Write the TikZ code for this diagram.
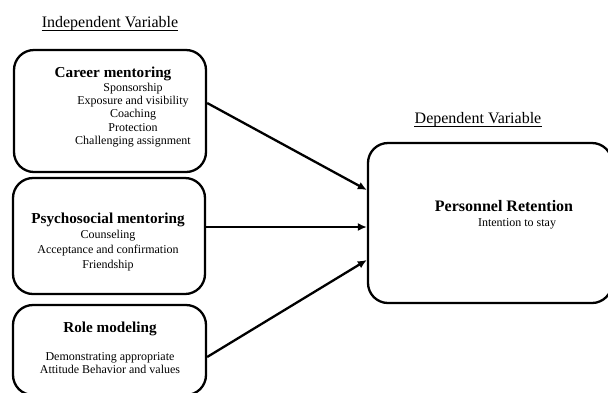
\documentclass[tikz,border=0pt]{standalone}
\usepackage{fontspec}
\setmainfont{Liberation Serif}
\usetikzlibrary{arrows.meta,calc}
\begin{document}
\begin{tikzpicture}[x=1pt,y=-1pt,
  box/.style={draw,line width=2.3pt,rounded corners=20pt,inner sep=0pt},
  arr/.style={line width=2.3pt,-{Latex[length=9pt,width=8pt]}},
  head/.style={font=\fontsize{15.2}{17}\selectfont\bfseries,inner sep=0pt},
  item/.style={font=\fontsize{12}{13.3}\selectfont,align=center,inner sep=0pt},
  lab/.style={font=\fontsize{16}{18}\selectfont,inner sep=0pt,anchor=base},
  uline/.style={line width=0.8pt}]
\clip (0,0) rectangle (608,392);
\fill[white] (0,0) rectangle (608,392);
% boxes
\node[box,minimum width=192pt,minimum height=122pt] (b1) at (110,111) {};
\node[box,minimum width=192pt,minimum height=116pt] (b2) at (109,236) {};
\node[box,minimum width=193pt,minimum height=90pt] (b3) at (109.5,350) {};
\node[box,minimum width=244pt,minimum height=160pt] (bR) at (490,223) {};
% labels
\node[lab] (lind) at (110,27.5) {Independent Variable};
\draw[uline] ($(lind.base west)+(0,3)$) -- ($(lind.base east)+(0,3)$);
\node[lab] (ldep) at (478,123) {Dependent Variable};
\draw[uline] ($(ldep.base west)+(0,3)$) -- ($(ldep.base east)+(0,3)$);
% career
\node[head] (t1) at (113,73.5) {Career mentoring};
\node[item] (i1) at (133,115) {Sponsorship\\Exposure and visibility\\Coaching\\Protection\\Challenging assignment};
% psychosocial
\node[head] (t2) at (108,219.5) {Psychosocial mentoring};
\node[item,font=\fontsize{12}{15}\selectfont] (i2) at (108,250.5) {Counseling\\Acceptance and confirmation\\Friendship};
% role
\node[head] (t3) at (110,328.5) {Role modeling};
\node[item] (i3) at (110,363) {Demonstrating appropriate\\Attitude Behavior and values};
% retention
\node[head,font=\fontsize{16}{18}\selectfont\bfseries] (tR) at (504,206.5) {Personnel Retention};
\node[item] (iR) at (517,223.5) {Intention to stay};
% arrows
\draw[arr] ($(b1.east)+(0,-8)$) -- ($(bR.west)+(0,-33)$);
\draw[arr] ($(b2.east)+(0,-9)$) -- ($(bR.west)+(0,4)$);
\draw[arr] ($(b3.east)+(0,7)$) -- ($(bR.west)+(0,37)$);
\end{tikzpicture}
\end{document}
